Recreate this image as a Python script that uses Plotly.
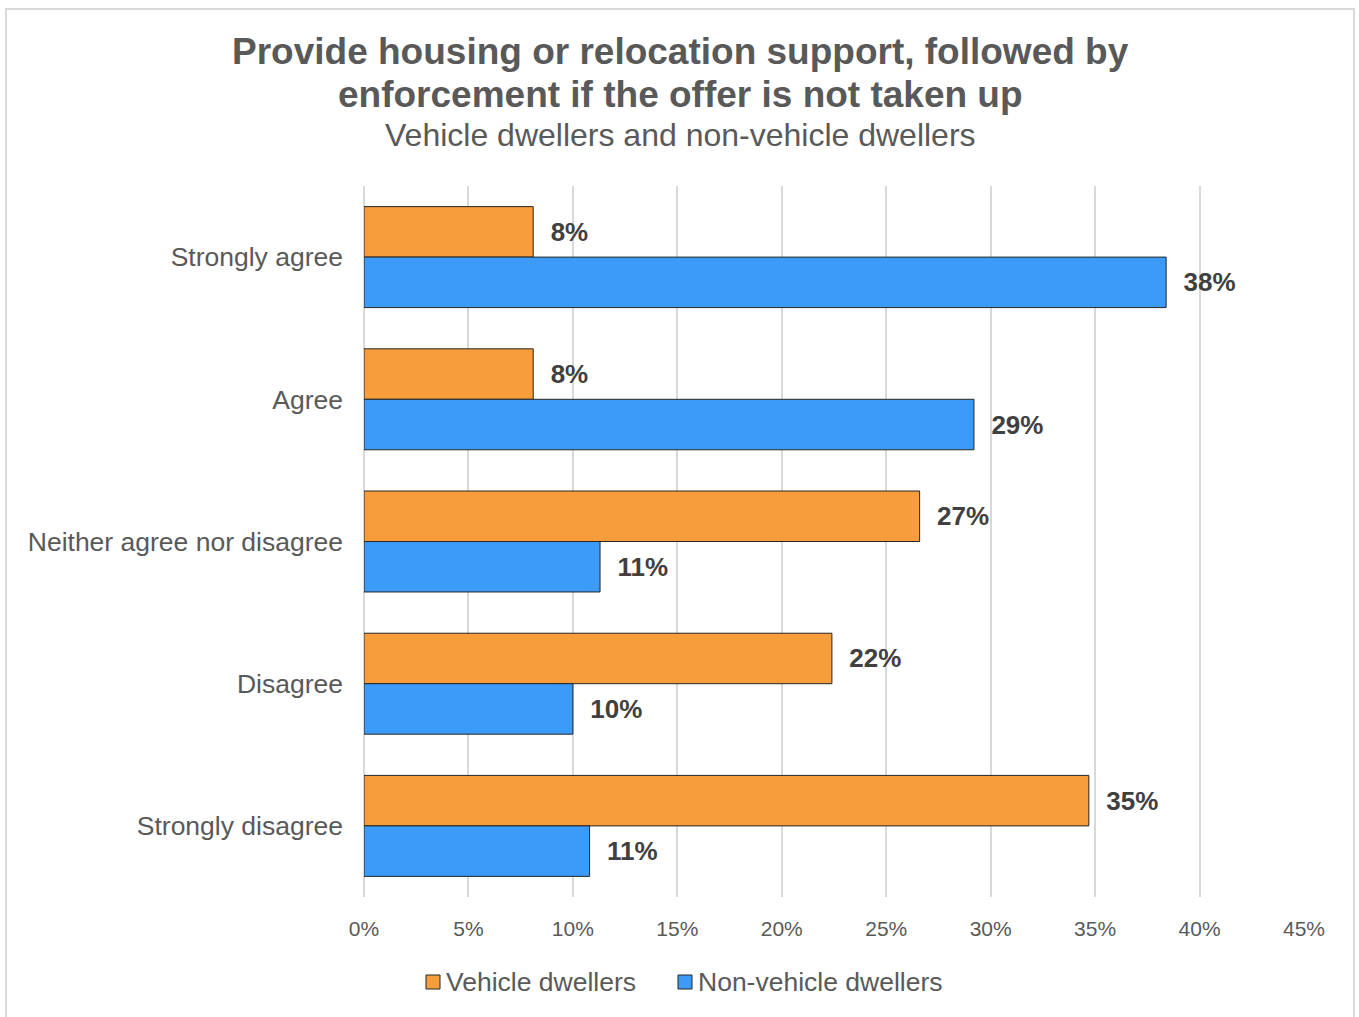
import plotly.graph_objects as go

# Survey responses (share of respondents)
categories = ["Strongly agree", "Agree", "Neither agree nor disagree", "Disagree", "Strongly disagree"]
vehicle_dwellers = [0.081, 0.081, 0.266, 0.224, 0.347]
non_vehicle_dwellers = [0.384, 0.292, 0.113, 0.100, 0.108]
series_names = ["Vehicle dwellers", "Non-vehicle dwellers"]
x_ticks = [0, 0.05, 0.10, 0.15, 0.20, 0.25, 0.30, 0.35, 0.40, 0.45]
x_tick_labels = ["0%", "5%", "10%", "15%", "20%", "25%", "30%", "35%", "40%", "45%"]

title_lines = ["Provide housing or relocation support, followed by",
               "enforcement if the offer is not taken up"]
subtitle = "Vehicle dwellers and non-vehicle dwellers"

FONT = "Liberation Sans, Arial, sans-serif"
GREY = "#595959"
ORANGE = "#F89D3C"
BLUE = "#3C9AF8"
OUTLINE = "#262626"
series_colors = [ORANGE, BLUE]

W, H = 1359, 1017
L, R, T, B = 364, 55, 186, 120
pw, ph = W - L - R, H - T - B


def px_x(v):
    return (v - L) / pw


def px_y(v):
    return (H - B - v) / ph


fig = go.Figure()
for name, vals, col in zip(series_names, [vehicle_dwellers, non_vehicle_dwellers], series_colors):
    fig.add_trace(go.Bar(
        name=name, y=categories, x=vals, orientation="h",
        marker=dict(color=col, line=dict(color=OUTLINE, width=1)),
        texttemplate="\u00a0\u00a0%{x:.0%}", textposition="outside",
        textfont=dict(family=FONT, size=26, color="#404040", weight="bold"),
        cliponaxis=False, showlegend=False,
    ))

annotations = []
for text, yc in zip(title_lines, [51, 95]):
    annotations.append(dict(
        text=f"<b>{text}</b>", xref="paper", yref="paper",
        x=px_x(680), y=px_y(yc), xanchor="center", yanchor="middle",
        showarrow=False, font=dict(family=FONT, size=37, color=GREY),
    ))
annotations.append(dict(
    text=subtitle, xref="paper", yref="paper", x=px_x(680), y=px_y(135),
    xanchor="center", yanchor="middle", showarrow=False,
    font=dict(family=FONT, size=32, color=GREY),
))

# Chart frame
shapes = [dict(
    type="rect", xref="paper", yref="paper",
    x0=px_x(6), x1=px_x(1354), y0=px_y(1030), y1=px_y(9),
    line=dict(color="#d9d9d9", width=2), layer="below",
)]

# Legend: swatch + label per series, centred under the chart
legend_y = 982
for name, col, sx in zip(series_names, series_colors, [426, 678]):
    shapes.append(dict(
        type="rect", xref="paper", yref="paper",
        x0=px_x(sx), x1=px_x(sx + 14),
        y0=px_y(legend_y + 7), y1=px_y(legend_y - 7),
        fillcolor=col, line=dict(color=OUTLINE, width=1),
    ))
    annotations.append(dict(
        text=name, xref="paper", yref="paper",
        x=px_x(sx + 18), y=px_y(legend_y),
        xanchor="left", yanchor="middle", showarrow=False,
        font=dict(family=FONT, size=26.5, color=GREY),
    ))

fig.update_layout(
    width=W, height=H,
    margin=dict(l=L, r=R, t=T, b=B),
    paper_bgcolor="white", plot_bgcolor="white",
    barmode="group", bargap=0.29, bargroupgap=0,
    font=dict(family=FONT, color=GREY),
    annotations=annotations,
    shapes=shapes,
    showlegend=False,
    xaxis=dict(
        range=[0, 0.45], tickvals=x_ticks, ticktext=x_tick_labels,
        showgrid=True, gridcolor="#d9d9d9", gridwidth=2,
        zeroline=True, zerolinecolor="#d9d9d9", zerolinewidth=2,
        showline=False,
        tickfont=dict(family=FONT, size=21, color=GREY),
        ticklabelstandoff=17,
    ),
    yaxis=dict(
        autorange="reversed", showgrid=False, zeroline=False, showline=False,
        tickfont=dict(family=FONT, size=26.5, color=GREY),
        ticklabelstandoff=20,
    ),
)

fig.write_html("out.html")
